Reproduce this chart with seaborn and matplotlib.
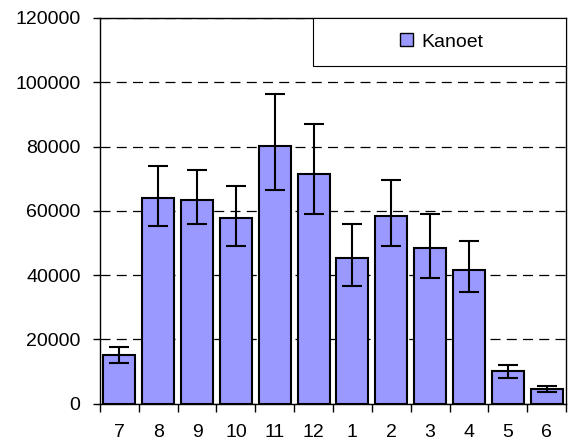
import matplotlib
matplotlib.use("Agg")
import matplotlib.pyplot as plt
import seaborn as sns
import numpy as np
import pandas as pd
from matplotlib.patches import Rectangle, Patch

months = ["7", "8", "9", "10", "11", "12", "1", "2", "3", "4", "5", "6"]
values = [15000, 64000, 63400, 57800, 80100, 71400, 45400, 58300, 48400, 41700, 10000, 4500]
err_low = [12500, 55300, 55800, 49100, 66500, 59100, 36600, 49000, 39100, 34700, 8000, 3500]
err_high = [17500, 74000, 72700, 67800, 96300, 87000, 56000, 69500, 59100, 50500, 11900, 5500]
series_name = "Kanoet"
y_ticks = [0, 20000, 40000, 60000, 80000, 100000, 120000]

sns.set_style("white")
plt.rcParams['font.family'] = ['Liberation Sans', 'DejaVu Sans']
plt.rcParams['text.color'] = 'black'
plt.rcParams['xtick.color'] = 'black'
plt.rcParams['ytick.color'] = 'black'

FS = 14

df = pd.DataFrame({"month": months, "value": values})

fig = plt.figure(figsize=(5.69, 4.47), dpi=100)
ax = fig.add_axes([100/569, 1-403.5/447, 466/569, 385.5/447])

sns.barplot(data=df, x="month", y="value", order=months, color="#9999ff",
            saturation=1, edgecolor="black", linewidth=1.5, width=0.82,
            errorbar=None, ax=ax, zorder=2)

vals = np.array(values, dtype=float)
lo = vals - np.array(err_low, dtype=float)
hi = np.array(err_high, dtype=float) - vals
ax.errorbar(np.arange(len(months)), vals, yerr=[lo, hi], fmt="none",
            ecolor="black", elinewidth=1.5, capsize=7.5, capthick=1.5, zorder=3)

ax.set_ylim(0, 120000)
ax.set_xlim(-0.5, len(months) - 0.5)
ax.set_yticks(y_ticks)
ax.set_yticklabels([str(t) for t in y_ticks], fontsize=FS)
ax.set_xlabel("")
ax.set_ylabel("")

# ticks between categories, labels at centers
ax.set_xticks(np.arange(len(months) + 1) - 0.5)
ax.set_xticklabels([])
ax.set_xticks(np.arange(len(months)), minor=True)
ax.set_xticklabels(months, minor=True, fontsize=FS)
ax.tick_params(axis="x", which="major", direction="out", length=6, width=1, color="black", bottom=True)
ax.tick_params(axis="x", which="minor", length=0, pad=15)
ax.tick_params(axis="y", direction="out", length=5, width=1, color="black", left=True, pad=9)

ax.yaxis.grid(True, linestyle=(0, (8, 5)), color="black", linewidth=0.9)
ax.xaxis.grid(False)
ax.set_axisbelow(True)
for s in ax.spines.values():
    s.set_color("black")
    s.set_linewidth(1)
    s.set_visible(True)

# legend box
x0 = (313 - 100) / 466
y0 = (403.5 - 66) / 385.5
ax.add_patch(Rectangle((x0, y0), 1 - x0, 1 - y0, transform=ax.transAxes,
                       facecolor="white", edgecolor="black", linewidth=0.8, zorder=4))
handle = Patch(facecolor="#9999ff", edgecolor="black", linewidth=1)
leg = ax.legend([handle], [series_name], loc="center",
                bbox_to_anchor=((x0 + 1) / 2 + 0.005, (y0 + 1) / 2), bbox_transform=ax.transAxes,
                frameon=False, fontsize=FS, handlelength=0.65, handleheight=0.65, handletextpad=0.45)
leg.set_zorder(5)

fig.savefig("out.png", dpi=100)
